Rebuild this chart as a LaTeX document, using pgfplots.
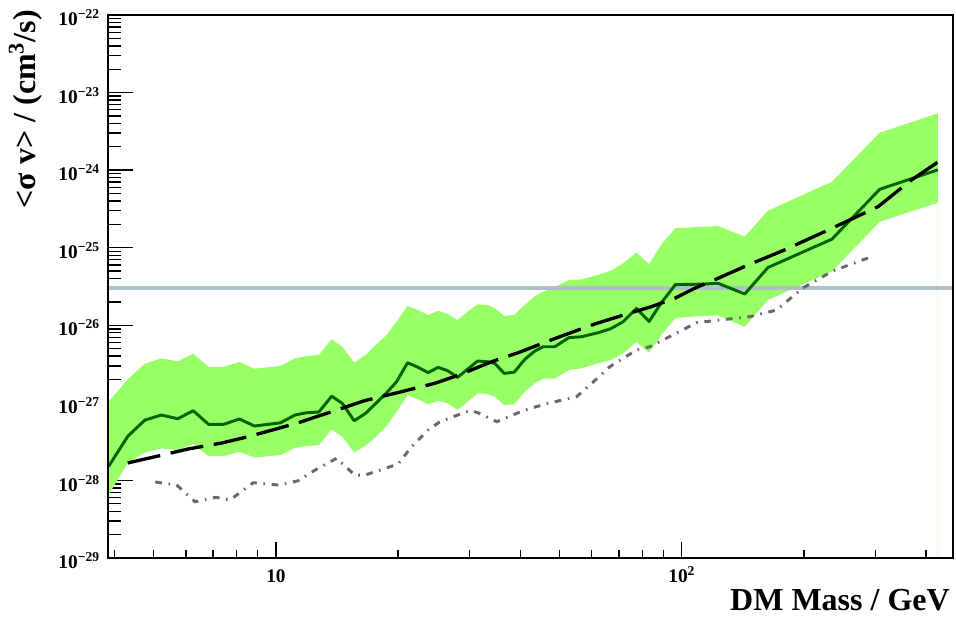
\documentclass[border=0pt]{standalone}
\usepackage{fontspec}
\setmainfont{Liberation Serif}
\usepackage{pgfplots}
\pgfplotsset{compat=1.18}
\usepgfplotslibrary{fillbetween}
\usepackage{pgfplotstable}

\definecolor{bandgreen}{RGB}{153,255,102}
\definecolor{obsgreen}{RGB}{0,100,0}
\definecolor{hgray}{RGB}{176,190,198}
\definecolor{dgray}{RGB}{105,105,105}
\definecolor{vgreen}{RGB}{225,250,215}

% mass, upper band, observed, lower band
\pgfplotstableread{
m up obs lo
3.868 1.03e-27 1.51e-28 6.48e-29
4.320 2.03e-27 3.74e-28 1.70e-28
4.757 3.20e-27 6.01e-28 2.29e-28
5.224 3.75e-27 6.97e-28 2.59e-28
5.731 3.43e-27 6.24e-28 2.47e-28
6.256 4.30e-27 7.92e-28 2.95e-28
6.823 2.92e-27 5.29e-28 2.05e-28
7.437 2.92e-27 5.29e-28 2.05e-28
8.131 3.36e-27 6.19e-28 2.34e-28
8.852 2.76e-27 5.03e-28 1.97e-28
10.26 2.99e-27 5.53e-28 2.13e-28
11.14 3.75e-27 6.97e-28 2.62e-28
11.90 4.02e-27 7.46e-28 2.78e-28
12.76 4.14e-27 7.62e-28 2.86e-28
13.72 6.59e-27 1.22e-27 4.56e-28
14.57 5.29e-27 9.86e-28 3.66e-28
15.59 3.29e-27 5.88e-28 2.30e-28
16.63 4.14e-27 7.33e-28 2.80e-28
17.63 5.57e-27 9.86e-28 3.66e-28
18.74 7.49e-27 1.35e-27 5.03e-28
19.83 1.11e-26 1.87e-27 7.69e-28
21.10 1.77e-26 3.29e-27 1.26e-27
22.41 1.57e-26 2.87e-27 1.11e-27
23.72 1.36e-26 2.45e-27 9.57e-28
25.10 1.54e-26 2.87e-27 1.06e-27
26.48 1.40e-26 2.60e-27 9.86e-28
28.02 1.17e-26 2.13e-27 8.09e-28
29.66 1.50e-26 2.71e-27 1.03e-27
31.39 1.86e-26 3.46e-27 1.33e-27
33.22 1.83e-26 3.39e-27 1.30e-27
34.63 1.65e-26 3.23e-27 1.20e-27
36.50 1.32e-26 2.40e-27 9.38e-28
38.63 1.36e-26 2.48e-27 9.57e-28
41.05 1.83e-26 3.64e-27 1.39e-27
43.44 2.38e-26 4.66e-27 1.79e-27
45.54 2.71e-26 5.29e-27 2.05e-27
48.66 3.11e-26 5.29e-27 2.05e-27
52.68 3.83e-26 6.92e-27 2.65e-27
56.62 3.91e-26 7.12e-27 2.79e-27
62.21 4.45e-26 8.02e-27 3.23e-27
66.85 5.05e-26 9.03e-27 3.57e-27
71.68 6.29e-26 1.11e-26 4.35e-27
77.34 8.62e-26 1.65e-26 6.09e-27
83.07 6.17e-26 1.12e-26 4.43e-27
89.43 1.13e-25 2.01e-26 7.72e-27
96.49 1.79e-25 3.35e-26 1.24e-26
105.65 1.83e-25 3.37e-26 1.29e-26
113.47 1.87e-25 3.40e-26 1.32e-26
122.84 1.90e-25 3.48e-26 1.34e-26
142.94 1.39e-25 2.53e-26 9.59e-27
163.1 3.00e-25 5.56e-26 2.12e-26
234.5 7.09e-25 1.29e-25 4.96e-26
307.4 3.04e-24 5.66e-25 2.16e-25
427.8 5.40e-24 1.01e-24 3.80e-25
}\band

\pgfplotstableread{
m exp
4.313 1.68e-28
5.035 2.02e-28
6.071 2.54e-28
7.362 3.04e-28
8.533 3.66e-28
10.00 4.60e-28
11.35 5.54e-28
13.72 7.69e-28
16.57 1.07e-27
20.01 1.36e-27
24.64 1.79e-27
28.12 2.26e-27
33.99 3.39e-27
39.52 4.43e-27
49.58 7.00e-27
61.06 1.04e-26
69.68 1.29e-26
84.21 1.74e-26
96.11 2.23e-26
107.6 3.00e-26
122.8 4.03e-26
145.6 5.98e-26
177.4 9.15e-26
225.0 1.61e-25
304.5 3.38e-25
368.0 7.46e-25
427.8 1.27e-24
}\expected

\pgfplotstableread{
m lim
5.043 9.54e-29
5.694 8.73e-29
6.317 5.31e-29
7.116 6.06e-29
7.704 5.59e-29
8.792 9.34e-29
10.11 8.73e-29
11.35 9.91e-29
12.48 1.36e-28
14.11 1.93e-28
15.65 1.17e-28
16.57 1.17e-28
20.01 1.63e-28
21.59 2.72e-28
23.72 4.47e-28
25.35 5.71e-28
30.05 7.97e-28
31.45 7.46e-28
35.02 5.71e-28
41.05 8.09e-28
46.85 9.86e-28
55.04 1.20e-27
60.03 1.79e-27
66.47 2.92e-27
77.34 4.80e-27
83.40 5.29e-27
96.11 7.72e-27
108.7 1.08e-26
124.1 1.17e-26
147.1 1.29e-26
171.1 1.57e-26
198.7 3.02e-26
235.5 5.01e-26
287.6 7.37e-26
}\other

\begin{document}
\begin{tikzpicture}
\begin{axis}[
  at={(0pt,0pt)}, anchor=south west,
  scale only axis, width=633.75pt, height=407.25pt,
  xmode=log, ymode=log,
  xmin=3.857, xmax=466, ymin=1e-29, ymax=1e-22,
  axis line style={line width=1.4pt},
  tick align=inside, tick pos=left,
  xtick=\empty, xmajorticks=false, xminorticks=false,
  ytick={1e-29,1e-28,1e-27,1e-26,1e-25,1e-24,1e-23,1e-22},
  yticklabels={10\textsuperscript{−29},10\textsuperscript{−28},10\textsuperscript{−27},10\textsuperscript{−26},10\textsuperscript{−25},10\textsuperscript{−24},10\textsuperscript{−23},10\textsuperscript{−22}},
  minor ytick={2e-29,3e-29,4e-29,5e-29,6e-29,7e-29,8e-29,9e-29,
    2e-28,3e-28,4e-28,5e-28,6e-28,7e-28,8e-28,9e-28,
    2e-27,3e-27,4e-27,5e-27,6e-27,7e-27,8e-27,9e-27,
    2e-26,3e-26,4e-26,5e-26,6e-26,7e-26,8e-26,9e-26,
    2e-25,3e-25,4e-25,5e-25,6e-25,7e-25,8e-25,9e-25,
    2e-24,3e-24,4e-24,5e-24,6e-24,7e-24,8e-24,9e-24,
    2e-23,3e-23,4e-23,5e-23,6e-23,7e-23,8e-23,9e-23},
  major tick length=18.75pt, minor tick length=9.4pt,
  every tick/.style={black, line width=1pt},
  yticklabel style={font=\fontsize{14.5}{17}\selectfont\bfseries, anchor=base east, inner sep=0pt, xshift=-6pt, yshift=-8pt},
]
\addplot[name path=up, draw=none, forget plot] table[x=m, y=up]{\band};
\addplot[name path=lo, draw=none, forget plot] table[x=m, y=lo]{\band};
\addplot[fill=bandgreen, draw=none] fill between[of=up and lo];
\addplot[draw=vgreen, line width=0.7pt] coordinates {(427.8,3.80e-25) (427.8,1e-29)};
\addplot[draw=hgray, line width=3pt] coordinates {(3.857,3e-26) (466,3e-26)};
\addplot[draw=obsgreen, line width=2.2pt, line join=round] table[x=m, y=obs]{\band};
\addplot[draw=black, line width=2.5pt, dash pattern=on 25pt off 8pt] table[x=m, y=exp]{\expected};
\addplot[draw=dgray, line width=2.2pt, dash pattern=on 5pt off 5pt on 1.2pt off 5pt] table[x=m, y=lim]{\other};
\end{axis}
\begin{axis}[
  at={(0pt,0pt)}, anchor=south west,
  scale only axis, width=633.75pt, height=407.25pt,
  xmode=log, ymode=log,
  xmin=3.857, xmax=466, ymin=1e-29, ymax=1e-22,
  axis line style={line width=1.4pt},
  tick align=inside, tick pos=left,
  ytick=\empty, ymajorticks=false, yminorticks=false,
  xtick={10,100},
  xticklabels={10,10\textsuperscript{2}},
  minor xtick={4,5,6,7,8,9,20,30,40,50,60,70,80,90,200,300,400},
  major tick length=12pt, minor tick length=6pt,
  every tick/.style={black, line width=1pt},
  xticklabel style={font=\fontsize{14.5}{17}\selectfont\bfseries, anchor=base, inner sep=0pt, yshift=-18pt},
]
\addplot[draw=none, forget plot] coordinates {(3.857,3e-26) (466,3e-26)};
\end{axis}
\node[anchor=base east, inner sep=0pt, font=\fontsize{24}{28}\selectfont\bfseries] at (631.5pt,-39.3pt) {DM Mass / GeV};
\node[rotate=90, anchor=base east, inner sep=0pt, font=\fontsize{24}{28}\selectfont\bfseries] at (-54.2pt,411pt) {<σ v> / (cm\textsuperscript{3}/s)};
\pgfresetboundingbox
\path[use as bounding box] (-81pt,-45pt) rectangle (636pt,418.5pt);
\end{tikzpicture}
\end{document}
